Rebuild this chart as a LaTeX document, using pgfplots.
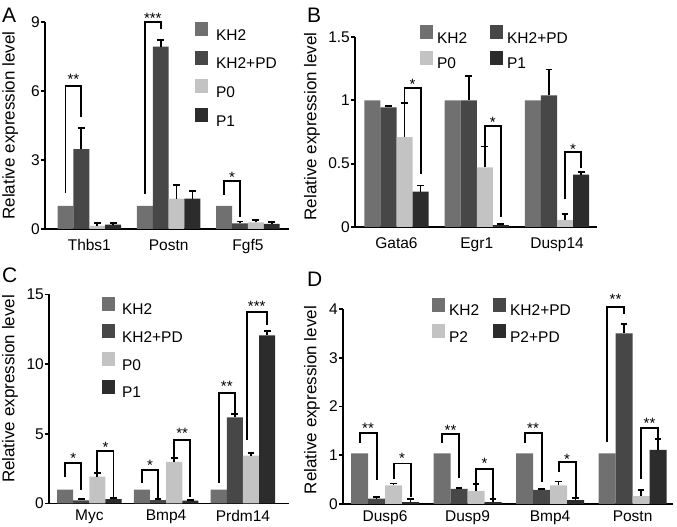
\documentclass[border=0pt]{standalone}
\usepackage{fontspec}
\setmainfont{Liberation Sans}
\usepackage{pgfplots}
\pgfplotsset{compat=1.18}
\definecolor{cKH}{HTML}{707070}
\definecolor{cPD}{HTML}{474747}
\definecolor{cP0}{HTML}{C3C3C3}
\definecolor{cP1}{HTML}{2C2C2C}
\newcommand\tfont{\fontsize{15.5}{18}\selectfont}
\newcommand\sig[3]{\node[font=\fontsize{15}{15}\selectfont, anchor=base, inner sep=0pt, yshift=-8.5pt] at (axis cs:#1,#2) {#3};}
\pgfplotsset{
  panel/.style={
    scale only axis,
    axis lines=left,
    axis line style={-, line width=1.9pt, black},
    clip=false,
    ymin=0,
    tick align=outside,
    major tick length=4pt,
    ytick style={line width=1.7pt, black},
    xtick style={draw=none},
    /pgf/number format/assume math mode=true,
    tick label style={font=\tfont},
    yticklabel style={inner sep=1pt},
    ylabel style={font=\fontsize{17}{19}\selectfont, anchor=center},
    legend style={draw=none, fill=none, inner sep=0pt, outer sep=0pt,
      font=\tfont, legend cell align=left, row sep=9pt, anchor=north west,
      nodes={inner sep=0pt}},
  },
  bars/.style={ybar, bar shift=0pt, draw=none, fill=#1,
    legend image code/.code={\fill[##1] (0pt,-0.5pt) rectangle (13pt,13.5pt);},
    error bars/.cd, y dir=plus, y explicit, error mark=|,
    error bar style={draw=black, line width=1.8pt},
    error mark options={draw=black, line width=1.8pt, mark size=3.4pt}},
  barsne/.style={ybar, bar shift=0pt, draw=none, fill=#1,
    legend image code/.code={\fill[##1] (0pt,-0.5pt) rectangle (13pt,13.5pt);}},
  br/.style={black, line width=1.9pt, no marks, sharp plot, forget plot},
}
\begin{document}
\begin{tikzpicture}
\useasboundingbox (0pt,0pt) rectangle (677pt,527pt);
\node[anchor=base west, font=\fontsize{21}{21}\selectfont, inner sep=0pt] at (2pt,504pt) {A};
\node[anchor=base west, font=\fontsize{21}{21}\selectfont, inner sep=0pt] at (307pt,504pt) {B};
\node[anchor=base west, font=\fontsize{21}{21}\selectfont, inner sep=0pt] at (2pt,244pt) {C};
\node[anchor=base west, font=\fontsize{21}{21}\selectfont, inner sep=0pt] at (307pt,240pt) {D};

% ---------------- A ----------------
\begin{axis}[panel, at={(45pt,298pt)}, anchor=south west, width=244pt, height=207pt,
  xmin=-0.559, xmax=2.518, ymax=9, ytick={0,3,6,9},
  xtick={0,1,2}, xticklabels={Thbs1,Postn,Fgf5},
  xticklabel style={yshift=-3pt},
  ylabel={Relative expression level},
  ylabel style={at={(axis description cs:-0.143,0.5)}},
  legend style={at={(axis description cs:0.615,1.0)},
    /tikz/every odd column/.style={column sep=8pt}},
  bar width=0.2]
\addplot[barsne=cKH] coordinates {(-0.3,1) (0.7,1) (1.7,1)};
\addlegendentry{KH2}
\addplot[bars=cPD] coordinates {(-0.1,3.47) +- (0,0.91) (0.9,7.93) +- (0,0.29) (1.9,0.245) +- (0,0.085)};
\addlegendentry{KH2+PD}
\addplot[bars=cP0] coordinates {(0.1,0.14) +- (0,0.12) (1.1,1.32) +- (0,0.59) (2.1,0.29) +- (0,0.085)};
\addlegendentry{P0}
\addplot[bars=cP1] coordinates {(0.3,0.19) +- (0,0.07) (1.3,1.32) +- (0,0.34) (2.3,0.22) +- (0,0.07)};
\addlegendentry{P1}
\addplot[br] coordinates {(-0.3,1.55) (-0.3,6.22) (-0.1,6.22) (-0.1,4.88)};
\addplot[br] coordinates {(0.7,1.54) (0.7,9.0) (0.9,9.0) (0.9,8.7)};
\addplot[br] coordinates {(1.7,1.47) (1.7,2.09) (1.9,2.09) (1.9,0.52)};
\sig{-0.2}{6.65}{**}
\sig{0.8}{9.3}{***}
\sig{1.8}{2.39}{*}
\end{axis}

% ---------------- B ----------------
\begin{axis}[panel, at={(355pt,300pt)}, anchor=south west, width=242pt, height=190pt,
  xmin=-0.517, xmax=2.498, ymax=1.5, ytick={0,0.5,1,1.5},
  xtick={0,1,2}, xticklabels={Gata6,Egr1,Dusp14},
  xticklabel style={yshift=-3pt},
  ylabel={Relative expression level},
  ylabel style={at={(axis description cs:-0.178,0.53)}},
  legend columns=2,
  legend style={at={(axis description cs:0.2686,1.063)}, row sep=6pt,
    /tikz/every odd column/.style={column sep=4pt},
    /tikz/every even column/.style={column sep=23pt}},
  bar width=0.2]
\addplot[barsne=cKH] coordinates {(-0.3,1) (0.7,1) (1.7,1)};
\addlegendentry{KH2}
\addplot[bars=cPD] coordinates {(-0.1,0.945) +- (0,0.013) (0.9,1.0) +- (0,0.19) (1.9,1.04) +- (0,0.203)};
\addlegendentry{KH2+PD}
\addplot[bars=cP0] coordinates {(0.1,0.71) +- (0,0.27) (1.1,0.47) +- (0,0.166) (2.1,0.055) +- (0,0.05)};
\addlegendentry{P0}
\addplot[bars=cP1] coordinates {(0.3,0.28) +- (0,0.047) (1.3,0.015) +- (0,0.01) (2.3,0.414) +- (0,0.021)};
\addlegendentry{P1}
\addplot[br] coordinates {(0.1,0.975) (0.1,1.10) (0.3,1.10) (0.3,0.42)};
\addplot[br] coordinates {(1.1,0.64) (1.1,0.80) (1.3,0.80) (1.3,0.08)};
\addplot[br] coordinates {(2.1,0.22) (2.1,0.59) (2.3,0.59) (2.3,0.465)};
\sig{0.2}{1.15}{*}
\sig{1.2}{0.85}{*}
\sig{2.2}{0.64}{*}
\end{axis}

% ---------------- C ----------------
\begin{axis}[panel, at={(49pt,23.5pt)}, anchor=south west, width=240pt, height=209pt,
  xmin=-0.525, xmax=2.6, ymax=15, ytick={0,5,10,15},
  xtick={0,1,2}, xticklabels={Myc,Bmp4,Prdm14},
  xticklabel style={yshift=1pt},
  ylabel={Relative expression level},
  ylabel style={at={(axis description cs:-0.1625,0.548)}},
  legend style={at={(axis description cs:0.221,0.989)}, row sep=8pt,
    /tikz/every odd column/.style={column sep=7pt}},
  bar width=0.21]
\addplot[barsne=cKH] coordinates {(-0.315,1) (0.685,1) (1.685,1)};
\addlegendentry{KH2}
\addplot[bars=cPD] coordinates {(-0.105,0.23) +- (0,0.07) (0.895,0.25) +- (0,0.05) (1.895,6.19) +- (0,0.21)};
\addlegendentry{KH2+PD}
\addplot[bars=cP0] coordinates {(0.105,1.92) +- (0,0.25) (1.105,2.98) +- (0,0.26) (2.105,3.43) +- (0,0.22)};
\addlegendentry{P0}
\addplot[bars=cP1] coordinates {(0.315,0.32) +- (0,0.1) (1.315,0.2) +- (0,0.07) (2.315,12.07) +- (0,0.33)};
\addlegendentry{P1}
\addplot[br] coordinates {(-0.315,1.9) (-0.315,2.89) (-0.105,2.89) (-0.105,1.0)};
\addplot[br] coordinates {(0.105,2.15) (0.105,3.74) (0.315,3.74) (0.315,0.5)};
\addplot[br] coordinates {(0.685,1.45) (0.685,2.4) (0.895,2.4) (0.895,0.4)};
\addplot[br] coordinates {(1.105,3.24) (1.105,4.56) (1.315,4.56) (1.315,0.45)};
\addplot[br] coordinates {(1.685,1.45) (1.685,7.95) (1.895,7.95) (1.895,6.48)};
\addplot[br] coordinates {(2.05,4.56) (2.05,13.77) (2.315,13.77) (2.315,12.81)};
\sig{-0.21}{3.45}{*}
\sig{0.21}{4.3}{*}
\sig{0.79}{2.96}{*}
\sig{1.21}{5.28}{**}
\sig{1.79}{8.63}{**}
\sig{2.18}{14.42}{***}
\end{axis}

% ---------------- D ----------------
\begin{axis}[panel, at={(343pt,23pt)}, anchor=south west, width=330pt, height=195pt,
  xmin=-0.51, xmax=3.49, ymax=4, ytick={0,1,2,3,4},
  xtick={0,1,2,3}, xticklabels={Dusp6,Dusp9,Bmp4,Postn},
  xticklabel style={yshift=1pt},
  ylabel={Relative expression level},
  ylabel style={at={(axis description cs:-0.094,0.533)}},
  legend columns=2,
  legend style={at={(axis description cs:0.2697,1.058)}, row sep=7pt,
    /tikz/every odd column/.style={column sep=4pt},
    /tikz/every even column/.style={column sep=14pt}},
  bar width=0.206]
\addplot[barsne=cKH] coordinates {(-0.309,1.04) (0.691,1.04) (1.691,1.04) (2.691,1.04)};
\addlegendentry{KH2}
\addplot[bars=cPD] coordinates {(-0.103,0.11) +- (0,0.03) (0.897,0.31) +- (0,0.02) (1.897,0.29) +- (0,0.015) (2.897,3.5) +- (0,0.19)};
\addlegendentry{KH2+PD}
\addplot[bars=cP0] coordinates {(0.103,0.38) +- (0,0.04) (1.103,0.27) +- (0,0.14) (2.103,0.38) +- (0,0.08) (3.103,0.16) +- (0,0.13)};
\addlegendentry{P2}
\addplot[bars=cP1] coordinates {(0.309,0.04) +- (0,0.06) (1.309,0.04) +- (0,0.06) (2.309,0.08) +- (0,0.04) (3.309,1.11) +- (0,0.22)};
\addlegendentry{P2+PD}
\addplot[br] coordinates {(-0.309,1.26) (-0.309,1.46) (-0.103,1.46) (-0.103,0.49)};
\addplot[br] coordinates {(0.103,0.51) (0.103,0.83) (0.309,0.83) (0.309,0.15)};
\addplot[br] coordinates {(0.691,1.26) (0.691,1.43) (0.897,1.43) (0.897,0.54)};
\addplot[br] coordinates {(1.103,0.42) (1.103,0.71) (1.309,0.71) (1.309,0.1)};
\addplot[br] coordinates {(1.691,1.26) (1.691,1.46) (1.897,1.46) (1.897,0.45)};
\addplot[br] coordinates {(2.103,0.66) (2.103,0.86) (2.309,0.86) (2.309,0.15)};
\addplot[br] coordinates {(2.691,1.27) (2.691,4.05) (2.897,4.05) (2.897,3.9)};
\addplot[br] coordinates {(3.103,0.52) (3.103,1.56) (3.309,1.56) (3.309,1.34)};
\sig{-0.206}{1.63}{**}
\sig{0.206}{1.0}{*}
\sig{0.794}{1.58}{**}
\sig{1.206}{0.9}{*}
\sig{1.794}{1.63}{**}
\sig{2.206}{0.98}{*}
\sig{2.794}{4.27}{**}
\sig{3.206}{1.73}{**}
\end{axis}
\end{tikzpicture}
\end{document}
